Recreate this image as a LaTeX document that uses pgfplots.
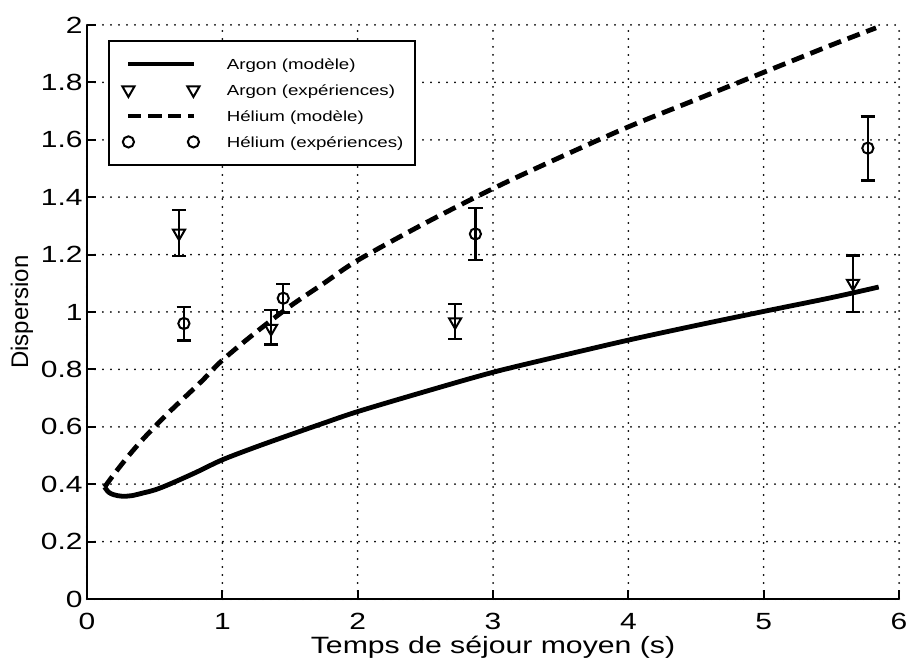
\documentclass[border=0pt]{standalone}
\usepackage{fontspec}
\setmainfont{Liberation Sans}[FakeStretch=1.28]
\newfontfamily\ylfont{Liberation Sans}
\usepackage{pgfplots}
\pgfplotsset{compat=1.18}

\begin{document}
\begin{tikzpicture}
\begin{axis}[
  at={(0,0)}, anchor=south west,
  width=406pt, height=287pt, scale only axis,
  xmin=0, xmax=6, ymin=0, ymax=2,
  xtick={0,1,2,3,4,5,6},
  ytick={0,0.2,0.4,0.6,0.8,1,1.2,1.4,1.6,1.8,2},
  yticklabels={0,0.2,0.4,0.6,0.8,1,1.2,1.4,1.6,1.8,2},
  axis lines*=left,
  axis line style={line width=1.2pt},
  tick align=inside,
  major tick length=4.5pt,
  tick style={line width=1pt, black},
  grid=major,
  grid style={black, line width=1pt, line cap=round, dash pattern=on 0pt off 4pt},
  /pgf/number format/assume math mode=true,
  ticklabel style={font=\fontsize{11.7}{12}\selectfont},
  xticklabel style={yshift=-3.7pt},
  yticklabel style={inner xsep=2pt},
  xlabel={Temps de séjour moyen (s)},
  ylabel={Dispersion},
  xlabel style={at={(axis description cs:0.5,-0.0845)}, anchor=center, font=\fontsize{11.8}{12}\selectfont},
  ylabel style={at={(axis description cs:-0.080,0.5)}, anchor=center, font=\ylfont\fontsize{12}{12}\selectfont},
  legend style={at={(axis description cs:0.0259,0.974)}, anchor=north west,
    draw=black, line width=1pt, fill=white,
    inner xsep=6pt, inner ysep=5pt,
    font=\fontsize{7.3}{8}\selectfont,
    cells={anchor=west},
    nodes={inner sep=0pt, text height=9.2pt, text depth=3.8pt},
    row sep=0pt, column sep=0pt},
  legend image code/.code={
    \path (-2.5pt,0pt) (48pt,0pt);
    \draw[#1] plot coordinates {(0pt,0pt) (32.5pt,0pt)};},
]
% Argon, modele
\addplot[black, line width=2.4pt, no marks, smooth] coordinates {
  (0.13,0.39) (0.16,0.372) (0.2,0.363) (0.26,0.358) (0.33,0.36) (0.42,0.37)
  (0.5,0.38) (0.6,0.398) (0.8,0.44) (1.0,0.485) (1.25,0.53) (1.5,0.572)
  (1.75,0.613) (2.0,0.653) (2.5,0.723) (3.0,0.79) (3.5,0.847) (4.0,0.902)
  (4.5,0.953) (5.0,1.002) (5.5,1.05) (5.85,1.087)
};
\addlegendentry{Argon (modèle)}
% Argon, experiences
\addplot[black, only marks, mark=triangle, mark size=3.5pt,
  mark options={rotate=180, line width=1pt},
  error bars/.cd, y dir=both, y explicit,
  error bar style={line width=1.2pt},
  error mark options={rotate=90, mark size=3.6pt, line width=1.2pt}]
  coordinates {
  (0.68,1.275) += (0,0.08) -= (0,0.08)
  (1.36,0.943) += (0,0.064) -= (0,0.056)
  (2.72,0.966) += (0,0.061) -= (0,0.06)
  (5.66,1.10) += (0,0.097) -= (0,0.101)
};
\addlegendentry{Argon (expériences)}
% Helium, modele
\addplot[black, line width=2.4pt, no marks, smooth, dash pattern=on 6.5pt off 3.5pt] coordinates {
  (0.13,0.39) (0.2,0.435) (0.3,0.495) (0.4,0.55) (0.5,0.60) (0.6,0.648)
  (0.7,0.693) (0.85,0.76) (1.0,0.832) (1.25,0.93) (1.5,1.02) (1.75,1.10)
  (2.0,1.18) (2.5,1.31) (3.0,1.43) (3.5,1.54) (4.0,1.645) (4.5,1.74)
  (5.0,1.835) (5.5,1.93) (5.83,1.99)
};
\addlegendentry{Hélium (modèle)}
% Helium, experiences
\addplot[black, only marks, mark=o, mark size=2.8pt,
  mark options={line width=1pt},
  error bars/.cd, y dir=both, y explicit,
  error bar style={line width=1.2pt},
  error mark options={rotate=90, mark size=3.6pt, line width=1.2pt}]
  coordinates {
  (0.716,0.96) += (0,0.058) -= (0,0.06)
  (1.45,1.048) += (0,0.049) -= (0,0.05)
  (2.87,1.272) += (0,0.09) -= (0,0.09)
  (5.77,1.571) += (0,0.11) -= (0,0.113)
};
\addlegendentry{Hélium (expériences)}
\end{axis}
\pgfresetboundingbox
\path (-43.5pt,-30pt) rectangle (409.5pt,299.5pt);
\end{tikzpicture}
\end{document}
